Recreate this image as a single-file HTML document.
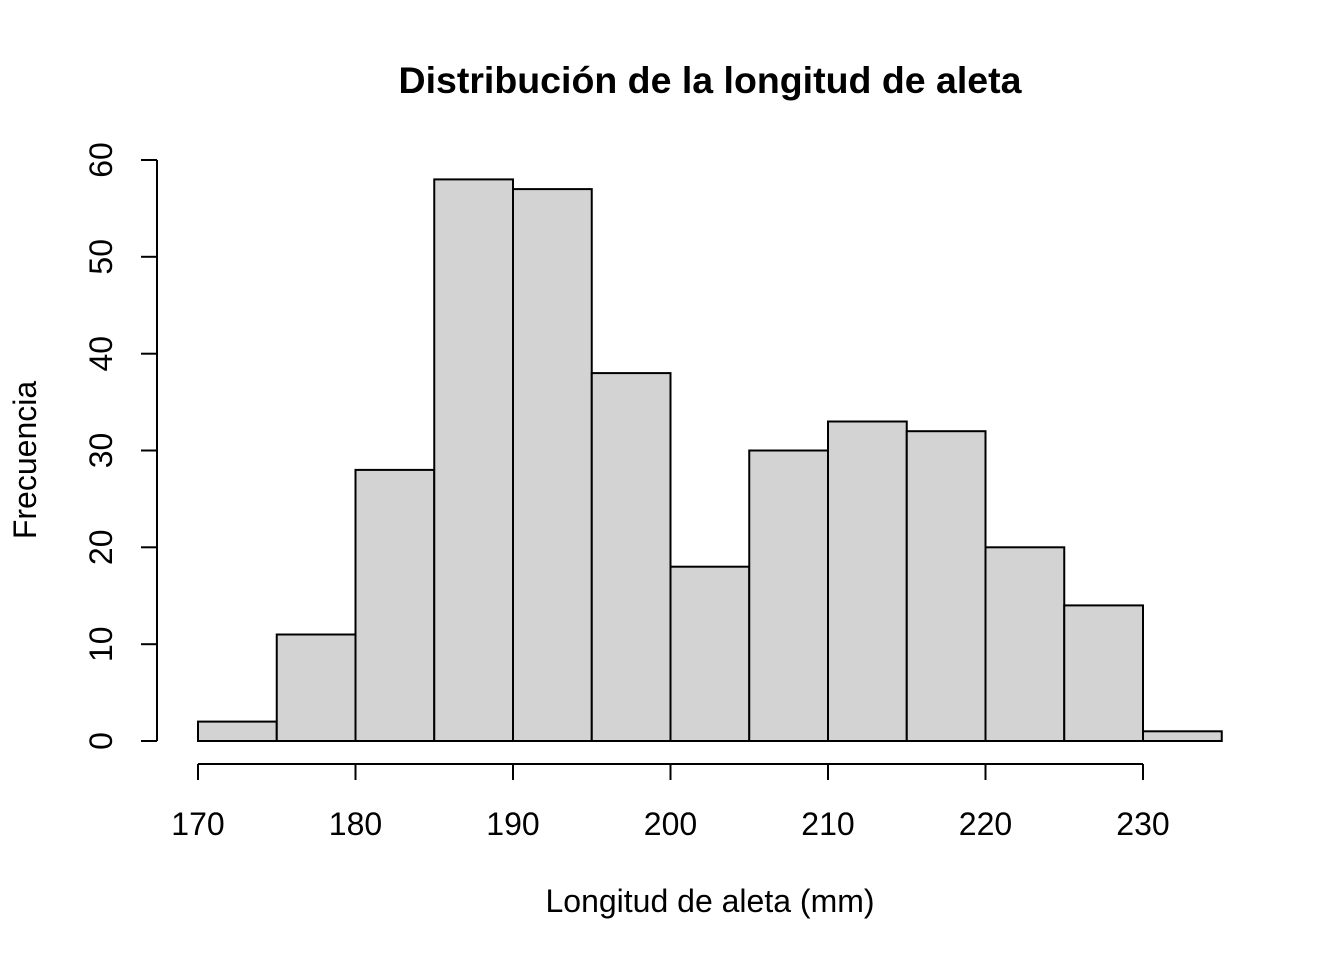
<!DOCTYPE html>
<html><head><meta charset="utf-8"><style>body{margin:0;background:#fff}svg{display:block}text{font-family:"Liberation Sans",Arial,sans-serif;fill:#000}</style></head><body>
<svg width="1344" height="960" viewBox="0 0 1344 960" xmlns="http://www.w3.org/2000/svg">
<rect width="1344" height="960" fill="#fff"/>
<g fill="#d3d3d3" stroke="#000" stroke-width="2">
<rect x="198" y="721.6" width="78.75" height="19.4"/>
<rect x="276.75" y="634.5" width="78.75" height="106.5"/>
<rect x="355.5" y="469.9" width="78.75" height="271.1"/>
<rect x="434.25" y="179.4" width="78.75" height="561.6"/>
<rect x="513" y="189.1" width="78.75" height="551.9"/>
<rect x="591.75" y="373.1" width="78.75" height="367.9"/>
<rect x="670.5" y="566.7" width="78.75" height="174.3"/>
<rect x="749.25" y="450.5" width="78.75" height="290.5"/>
<rect x="828" y="421.5" width="78.75" height="319.5"/>
<rect x="906.75" y="431.2" width="78.75" height="309.8"/>
<rect x="985.5" y="547.3" width="78.75" height="193.7"/>
<rect x="1064.25" y="605.4" width="78.75" height="135.6"/>
<rect x="1143" y="731.3" width="78.75" height="9.7"/>
</g>
<g stroke="#000" stroke-width="2" fill="none">
<line x1="157" y1="160" x2="157" y2="741"/>
<line x1="141" y1="741" x2="157" y2="741"/>
<line x1="141" y1="644.2" x2="157" y2="644.2"/>
<line x1="141" y1="547.3" x2="157" y2="547.3"/>
<line x1="141" y1="450.5" x2="157" y2="450.5"/>
<line x1="141" y1="353.7" x2="157" y2="353.7"/>
<line x1="141" y1="256.8" x2="157" y2="256.8"/>
<line x1="141" y1="160" x2="157" y2="160"/>
<line x1="198" y1="764" x2="1143" y2="764"/>
<line x1="198" y1="764" x2="198" y2="780"/>
<line x1="355.5" y1="764" x2="355.5" y2="780"/>
<line x1="513" y1="764" x2="513" y2="780"/>
<line x1="670.5" y1="764" x2="670.5" y2="780"/>
<line x1="828" y1="764" x2="828" y2="780"/>
<line x1="985.5" y1="764" x2="985.5" y2="780"/>
<line x1="1143" y1="764" x2="1143" y2="780"/>
</g>
<g font-size="32" text-anchor="middle">
<text x="198" y="835">170</text>
<text x="355.5" y="835">180</text>
<text x="513" y="835">190</text>
<text x="670.5" y="835">200</text>
<text x="828" y="835">210</text>
<text x="985.5" y="835">220</text>
<text x="1143" y="835">230</text>
<text transform="translate(112,741) rotate(-90)">0</text>
<text transform="translate(112,644.2) rotate(-90)">10</text>
<text transform="translate(112,547.3) rotate(-90)">20</text>
<text transform="translate(112,450.5) rotate(-90)">30</text>
<text transform="translate(112,353.7) rotate(-90)">40</text>
<text transform="translate(112,256.8) rotate(-90)">50</text>
<text transform="translate(112,160) rotate(-90)">60</text>
<text x="710" y="912">Longitud de aleta (mm)</text>
<text transform="translate(36,460) rotate(-90)">Frecuencia</text>
<text x="710" y="93" font-size="37.5" font-weight="bold">Distribución de la longitud de aleta</text>
</g>
</svg>
</body></html>
